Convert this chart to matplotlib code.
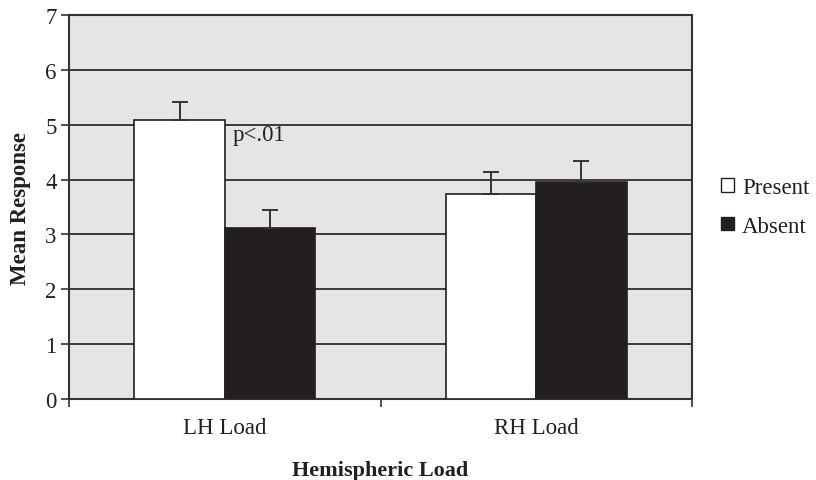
import numpy as np
import matplotlib.pyplot as plt

# Mean response by hemispheric load
categories = ['LH Load', 'RH Load']
present = [5.09, 3.74]
absent = [3.12, 3.96]
present_err = [0.33, 0.40]
absent_err = [0.33, 0.38]

plt.rcParams['font.family'] = ['Liberation Serif', 'DejaVu Serif']
fs = 16.5

fig = plt.figure(figsize=(8.16, 4.81), dpi=100)
ax = fig.add_axes([0.0846, 0.1684, 0.7634, 0.7983])
ax.set_facecolor('#e4e5e7')

x = np.arange(len(categories))
w = 0.29
ebar = dict(ecolor='#333333', elinewidth=1.4, capsize=5.8, capthick=1.4)
ax.bar(x - w / 2, present, w, color='white', edgecolor='#231f20', linewidth=1.2,
       yerr=[np.zeros(len(present)), present_err], error_kw=ebar, label='Present', zorder=3)
ax.bar(x + w / 2, absent, w, color='#231f20', edgecolor='#231f20', linewidth=1.2,
       yerr=[np.zeros(len(absent)), absent_err], error_kw=ebar, label='Absent', zorder=3)

ax.text(x[0] + 0.026, 4.83, 'p<.01', fontsize=fs, va='center', ha='left', color='#231f20', zorder=4)

ax.set_xlim(-0.5, 1.5)
ax.set_ylim(0, 7)
ax.set_yticks(range(8))
ax.yaxis.grid(True, color='#3a3a3a', linewidth=1.4, zorder=0)
ax.set_axisbelow(True)

# category boundaries as ticks, labels in the middle
ax.set_xticks([-0.5, 0.5, 1.5])
ax.set_xticklabels([])
ax.set_xticks(x, minor=True)
ax.set_xticklabels(categories, minor=True)
ax.tick_params(axis='x', which='minor', length=0, pad=13, labelsize=fs, labelcolor='#231f20')
ax.tick_params(axis='x', which='major', length=6, width=1.2, color='#333333')
ax.tick_params(axis='y', length=6, width=1.2, color='#333333', labelsize=fs, pad=3, labelcolor='#231f20')

for s in ax.spines.values():
    s.set_color('#333333')
    s.set_linewidth(1.5)

ax.set_ylabel('Mean Response', fontsize=16.5, fontweight='bold', labelpad=10, color='#231f20')
ax.set_xlabel('Hemispheric Load', fontsize=16, fontweight='bold', labelpad=16, color='#231f20')

leg = ax.legend(loc='center left', bbox_to_anchor=(1.014, 0.5), frameon=False, fontsize=fs,
                handlelength=0.55, handleheight=0.55, handletextpad=0.35, labelspacing=0.75)
for t in leg.get_texts():
    t.set_color('#231f20')
for h in leg.legend_handles:
    h.set_linewidth(1.0)

fig.savefig('out.png', dpi=100)
